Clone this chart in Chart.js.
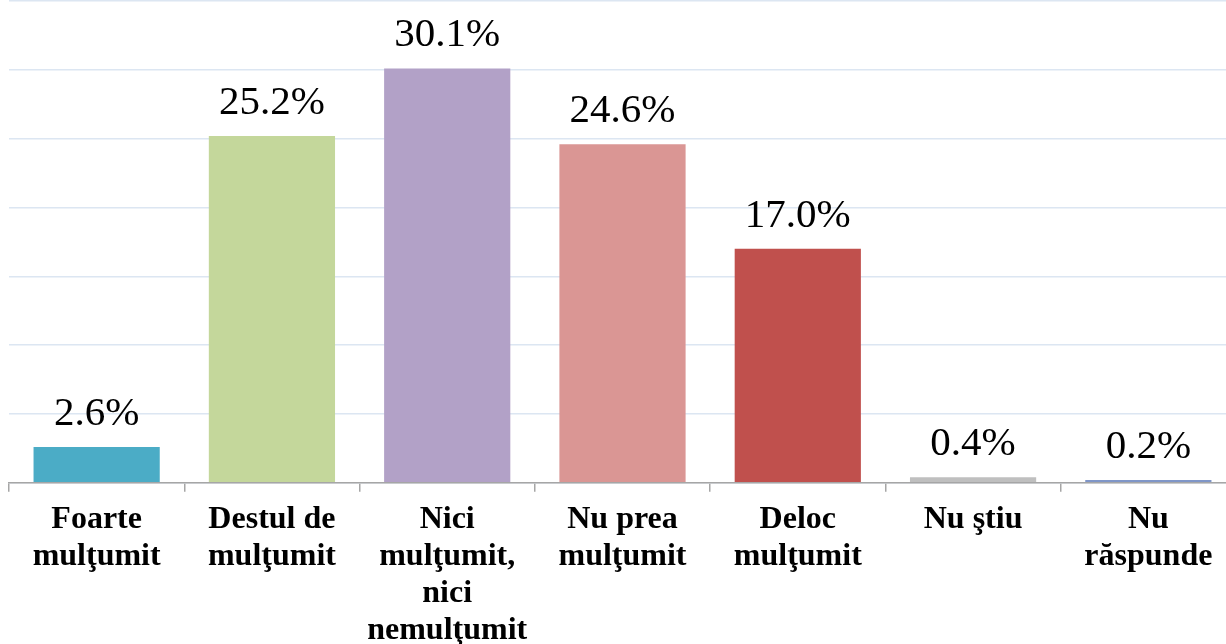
<!DOCTYPE html>
<html>
<head>
<meta charset="utf-8">
<script src="https://cdn.jsdelivr.net/npm/chart.js@4"></script>
<style>
  html, body { margin: 0; padding: 0; background: #fff; overflow: hidden; }
  #wrap { width: 1236px; height: 644px; position: relative; }
</style>
</head>
<body>
<div id="wrap"><canvas id="myChart"></canvas></div>
<script>
const categories = [
  ["Foarte", "mulţumit"],
  ["Destul de", "mulţumit"],
  ["Nici", "mulţumit,", "nici", "nemulţumit"],
  ["Nu prea", "mulţumit"],
  ["Deloc", "mulţumit"],
  ["Nu ştiu"],
  ["Nu", "răspunde"]
];
const values = [2.6, 25.2, 30.1, 24.6, 17.0, 0.4, 0.2];
const barColors = ["#4bacc6", "#c4d79b", "#b2a1c7", "#da9694", "#c0504d", "#bfbfbf", "#7f96c8"];
const yTicks = [0, 5, 10, 15, 20, 25, 30, 35];

const serif = "'Liberation Serif', 'Times New Roman', serif";

// подписи значений над столбцами
const valueLabels = {
  id: "valueLabels",
  afterDatasetsDraw(chart) {
    const ctx = chart.ctx;
    const meta = chart.getDatasetMeta(0);
    ctx.save();
    ctx.font = "41px " + serif;
    ctx.fillStyle = "#000";
    ctx.textAlign = "center";
    ctx.textBaseline = "alphabetic";
    meta.data.forEach((bar, i) => {
      ctx.fillText(values[i].toFixed(1) + "%", bar.x, bar.y - 22);
    });
    ctx.restore();
  }
};

new Chart(document.getElementById("myChart"), {
  type: "bar",
  data: {
    labels: categories,
    datasets: [{
      data: values,
      backgroundColor: barColors,
      borderWidth: 0,
      barPercentage: 0.72,
      categoryPercentage: 1
    }]
  },
  options: {
    responsive: true,
    maintainAspectRatio: false,
    animation: false,
    layout: { padding: { left: 9, top: 1, right: 0, bottom: -15 } },
    plugins: {
      legend: { display: false },
      tooltip: { enabled: false }
    },
    scales: {
      x: {
        offset: true,
        grid: {
          offset: true,
          drawOnChartArea: false,
          drawTicks: true,
          tickLength: 9,
          color: "#a6a6a6",
          lineWidth: 1.5
        },
        border: { display: true, color: "#a6a6a6", width: 1.5 },
        ticks: {
          maxRotation: 0,
          autoSkip: false,
          padding: 10,
          color: "#000",
          font: { family: serif, size: 32, weight: "bold", lineHeight: 1.15 }
        }
      },
      y: {
        min: 0,
        max: 35,
        afterBuildTicks(axis) {
          axis.ticks = yTicks.map(v => ({ value: v }));
        },
        ticks: { display: false },
        border: { display: false },
        grid: { color: "#dce6f2", lineWidth: 1.5, drawTicks: false }
      }
    }
  },
  plugins: [valueLabels]
});
</script>
</body>
</html>
